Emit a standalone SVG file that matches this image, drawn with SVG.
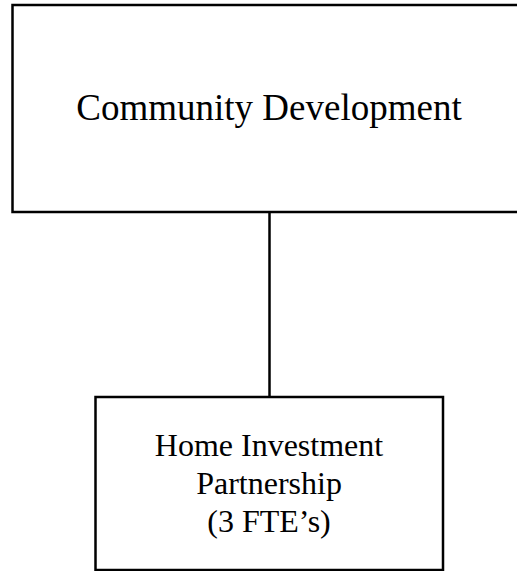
<svg xmlns="http://www.w3.org/2000/svg" width="517" height="571" viewBox="0 0 517 571">
<style>
.box{fill:#fff;stroke:#000;stroke-width:2.5}
.conn{stroke:#000;stroke-width:2.5;fill:none}
.t{font-family:"Liberation Serif","Times New Roman",serif;fill:#000;text-anchor:middle}
</style>
<rect width="517" height="571" fill="#fff"/>
<g id="connectors">
<line class="conn" x1="269.5" y1="212" x2="269.5" y2="397"/>
</g>
<g id="node-community-development">
<rect class="box" x="12.5" y="5" width="520" height="207"/>
<text class="t" x="269" y="119.5" font-size="37">Community Development</text>
</g>
<g id="node-home-investment">
<rect class="box" x="95.5" y="397" width="347.5" height="173"/>
<text class="t" font-size="32"><tspan x="269" y="456">Home Investment</tspan><tspan x="269" y="494">Partnership</tspan><tspan x="269" y="532">(3 FTE’s)</tspan></text>
</g>
</svg>
